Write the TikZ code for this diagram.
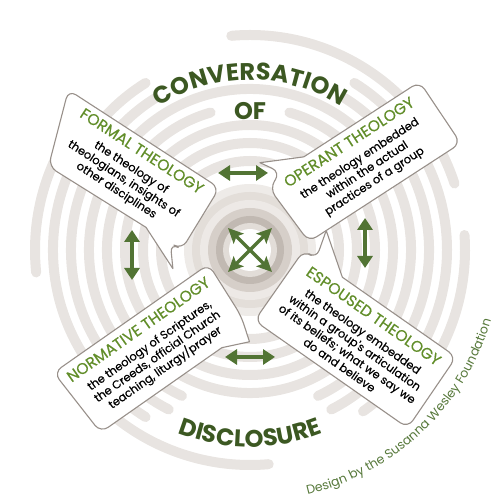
\documentclass[tikz,border=0pt]{standalone}
\usepackage{fontspec}
\setmainfont{Poppins}
\newfontfamily\medfont{Poppins}[FakeBold=0.35]
\usetikzlibrary{arrows.meta,decorations.text}
\definecolor{ringgrey}{RGB}{232,228,225}
\definecolor{bubbleline}{RGB}{152,144,138}
\definecolor{headgreen}{RGB}{98,142,42}
\definecolor{titlegreen}{RGB}{60,88,34}
\definecolor{arrowgreen}{RGB}{82,116,52}
\definecolor{creditgreen}{RGB}{86,120,58}
\definecolor{discA}{RGB}{238,235,232}
\definecolor{discB}{RGB}{227,222,217}
\definecolor{discC}{RGB}{237,233,230}
\definecolor{discD}{RGB}{214,207,201}
\definecolor{discE}{RGB}{193,185,178}
\definecolor{discF}{RGB}{226,221,216}
\newcommand\headfnt{\medfont\fontsize{15.5}{17}\selectfont}
\newcommand\bodyfnt{\medfont\fontsize{11.4}{13.6}\selectfont}
\newcommand\titlefnt{\fontsize{24}{26}\selectfont\bfseries}
\tikzset{
  ring/.style={draw=ringgrey, line width=10pt, line cap=round},
  bubble/.style={draw=bubbleline, fill=white, line width=1.1pt, rounded corners=9pt, line join=round},
  dblarrow/.style={draw=arrowgreen, line width=4pt, {Triangle[length=12pt,width=15pt]}-{Triangle[length=12pt,width=15pt]}},
  xarrow/.style={draw=arrowgreen, line width=3.5pt, -{Stealth[length=15pt,width=14pt,inset=3pt]}},
  btext/.style={align=center, font=\bodyfnt, inner sep=0pt},
}
\begin{document}
\begin{tikzpicture}[x=1pt,y=1pt]
\useasboundingbox (0,0) rectangle (500,500);
\coordinate (C) at (250,250);
% rings
\foreach \r/\a/\b in {215/18/95, 215/-30/4, 215/-140/-85, 215/142/186,
    197/122/238, 197/-55/58, 179/122/243, 179/-63/58, 161/-65/245, 143/106/434}
  \draw[ring] ([shift={(\a:\r)}]250,250) arc[start angle=\a, end angle=\b, radius=\r];
\foreach \r in {125,107,89}
  \draw[ring] (C) circle (\r);
% centre disc
\fill[discA] (C) circle (66);
\fill[discB] (C) circle (58);
\fill[discC] (C) circle (50);
\fill[discD] (C) circle (42);
\fill[discE] (C) circle (34);
\fill[discF] (C) circle (27);
\fill[white] (C) circle (21);
% titles on arcs
\path[decorate, decoration={text along path, text={|\titlefnt|CONVERSATION}, text align=center, text color=titlegreen}]
  ([shift={(130:170)}]250,250) arc[start angle=130, end angle=50, radius=170];
\path[decorate, decoration={text along path, text={|\titlefnt|DISCLOSURE}, text align=center, text color=titlegreen}]
  ([shift={(234:197)}]250,250) arc[start angle=234, end angle=306, radius=197];
\path[decorate, decoration={text along path, text={|\fontsize{12.5}{14}\selectfont|Design by the Susanna Wesley Foundation}, text align=center, text color=creditgreen}]
  ([shift={(-89:251)}]250,250) arc[start angle=-89, end angle=-4, radius=251];
\node[font=\titlefnt, text=titlegreen] (of) at (250,389) {OF};
% bubbles (local frames: x along the text, y up)
\begin{scope}[shift={(129,329)}, rotate=-33]
  \draw[bubble] (-95,35) -- (85,35) -- (87,-37) -- (74,-38) [sharp corners] -- (90,-58) -- (45,-38) [rounded corners=9pt] -- (-70,-40) -- cycle;
\end{scope}
\begin{scope}[shift={(362,338)}, rotate=33]
  \draw[bubble] (-46,36) -- (92,36) -- (93,-38) -- (-88,-38) -- (-92,28) -- (-74,36) [sharp corners] -- (-86,55) -- cycle;
\end{scope}
\begin{scope}[shift={(152,151)}, rotate=35]
  \draw[bubble] (-94,37) -- (95,37) -- (92,-24) [sharp corners] -- (84,-50) -- (58,-39) [rounded corners=9pt] -- (-90,-39) -- cycle;
\end{scope}
\begin{scope}[shift={(357,160)}, rotate=-35]
  \draw[bubble] (-95,43) -- (-80,43) [sharp corners] -- (-88,72) -- (-48,43) [rounded corners=9pt] -- (91,43) -- (92,-43) -- (-95,-43) -- cycle;
\end{scope}
% bubble texts
\node[btext, rotate=-33] (formalT) at (129,329) {{\headfnt\color{headgreen}FORMAL THEOLOGY}\\[4pt] the theology of\\ theologians, insights of\\ other disciplines};
\node[btext, rotate=33] (operantT) at (362,338) {{\headfnt\color{headgreen}OPERANT THEOLOGY}\\[4pt] the theology embedded\\ within the actual\\ practices of a group};
\node[btext, rotate=35] (normT) at (152,151) {{\headfnt\color{headgreen}NORMATIVE THEOLOGY}\\[4pt] the theology of Scriptures,\\ the Creeds, official Church\\ teaching, liturgy/prayer};
\node[btext, rotate=-35] (espT) at (357,160) {{\headfnt\color{headgreen}ESPOUSED THEOLOGY}\\[4pt] the theology embedded\\ within a group's articulation\\ of its beliefs; what we say we\\ do and believe};
% double arrows
\coordinate (ta) at (218,327); \coordinate (tb) at (268,327);
\coordinate (ra) at (365,282); \coordinate (rb) at (365,232);
\coordinate (la) at (132,270); \coordinate (lb) at (132,220);
\coordinate (ba) at (225,143); \coordinate (bb) at (275,143);
\draw[dblarrow] (ta) -- (tb);
\draw[dblarrow] (ra) -- (rb);
\draw[dblarrow] (la) -- (lb);
\draw[dblarrow] (ba) -- (bb);
% centre cross arrows
\coordinate (x1) at (228,272); \coordinate (x2) at (272,272);
\coordinate (x3) at (228,228); \coordinate (x4) at (272,228);
\foreach \t in {x1,x2,x3,x4} \draw[xarrow] (C) -- (\t);
\end{tikzpicture}
\end{document}
